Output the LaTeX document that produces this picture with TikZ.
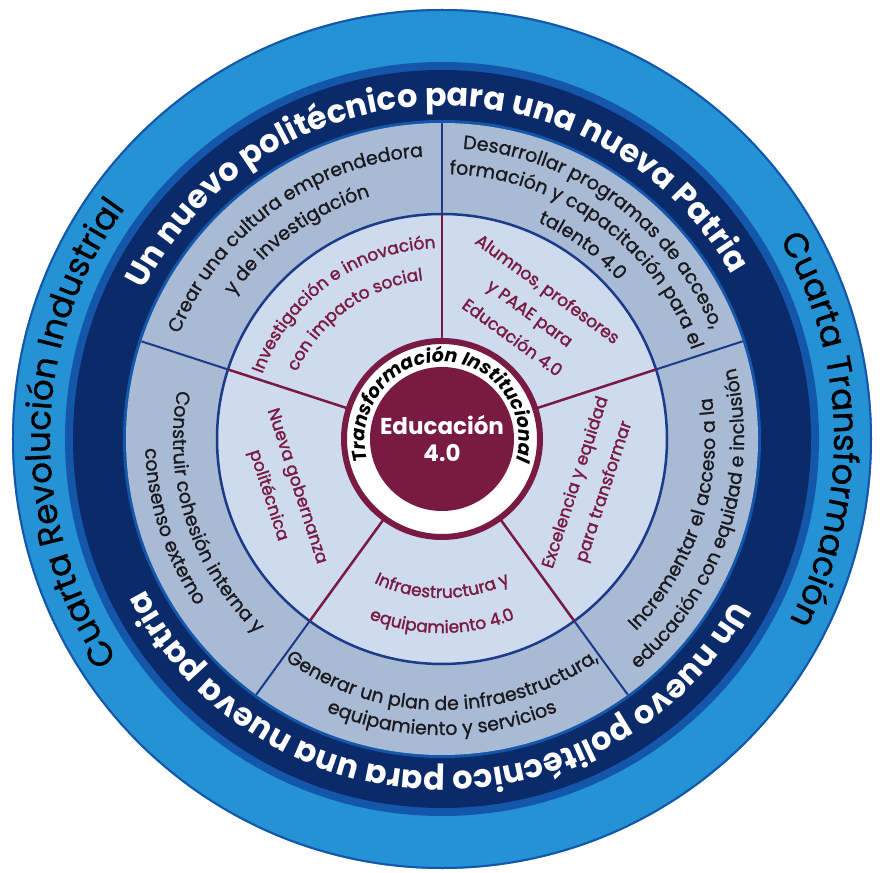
\documentclass[tikz,border=0pt]{standalone}
\usepackage{fontspec}
\setmainfont{Poppins}
\newfontfamily\popmed{Poppins}[FakeBold=1.0]
\newfontfamily\popsemi{Poppins}[FakeBold=1.6]
\usepackage{tikz}
\usetikzlibrary{decorations.text,positioning}

\definecolor{sky}{RGB}{36,146,212}
\definecolor{midblue}{RGB}{20,86,170}
\definecolor{navy}{RGB}{10,42,106}
\definecolor{slate}{RGB}{168,186,212}
\definecolor{pale}{RGB}{206,218,238}
\definecolor{wine}{RGB}{120,26,66}
\definecolor{rule}{RGB}{28,58,138}
\definecolor{ink}{RGB}{25,25,30}

\newcommand{\fband}{\fontsize{34}{40}\selectfont\popmed}
\newcommand{\fnavy}{\fontsize{32}{38}\selectfont\bfseries}
\newcommand{\fgray}{\fontsize{19}{23}\selectfont\popmed}
\newcommand{\fwine}{\fontsize{17}{30}\selectfont\popsemi}
\newcommand{\fcore}{\fontsize{19}{23}\selectfont\bfseries\itshape}

\tikzstyle{ring}=[decorate,decoration={text along path,text align=center}]
\tikzstyle{winetxt}=[text=wine,align=center,font=\fwine,inner sep=0pt]
\tikzset{every picture/.style={line width=0.5pt}}

% radius, start, end, colour, font, text
\newcommand{\arctxt}[6]{\path[ring,decoration={text color=#4,text={|#5|#6}}] (#2:#1) arc[start angle=#2,end angle=#3,radius=#1];}

\begin{document}
\begin{tikzpicture}
\useasboundingbox (-442pt,-433pt) rectangle (438pt,439pt);
\fill[sky] (0,0) circle[radius=430pt];
\draw[midblue,line width=2pt] (0,0) circle[radius=429pt];
\fill[midblue] (0,0) circle[radius=377pt];
\fill[navy] (0,0) circle[radius=369pt];
\fill[midblue] (0,0) circle[radius=319pt];
\fill[slate] (0,0) circle[radius=316pt];
\fill[pale] (0,0) circle[radius=225pt];
\draw[rule,line width=2.5pt] (0,0) circle[radius=225pt];
\foreach \a in {18,90,162,234,306}{
  \draw[rule,line width=2pt] (\a:225pt) -- (\a:316pt);
  \draw[wine,line width=2.5pt] (\a:98pt) -- (\a:225pt);
}
\fill[white] (0,0) circle[radius=98pt];
\draw[wine,line width=6pt] (0,0) circle[radius=98pt];
\fill[wine] (0,0) circle[radius=72pt];

\arctxt{392pt}{240}{118}{black}{\fband}{Cuarta Revolución Industrial}
\arctxt{392pt}{60}{-57}{black}{\fband}{Cuarta Transformación}
\arctxt{333pt}{178}{5}{white}{\fnavy}{Un nuevo politécnico para una nueva Patria}
\arctxt{333pt}{-5}{-177}{white}{\fnavy}{Un nuevo politécnico para una nueva patria}

\arctxt{283pt}{162}{90}{ink}{\fgray}{Crear una cultura emprendedora}
\arctxt{253pt}{162}{90}{ink}{\fgray}{y de investigación}
\arctxt{291pt}{90}{18}{ink}{\fgray}{Desarrollar programas de acceso,}
\arctxt{265pt}{90}{18}{ink}{\fgray}{formación y capacitación para el}
\arctxt{237pt}{90}{18}{ink}{\fgray}{talento 4.0}
\arctxt{273pt}{-54}{18}{ink}{\fgray}{Incrementar el acceso a la}
\arctxt{302pt}{-54}{18}{ink}{\fgray}{educación con equidad e inclusión}
\arctxt{271pt}{234}{306}{ink}{\fgray}{Generar un plan de infraestructura,}
\arctxt{296pt}{234}{306}{ink}{\fgray}{equipamiento y servicios}
\arctxt{269pt}{162}{234}{ink}{\fgray}{Construir cohesión interna y}
\arctxt{297pt}{162}{234}{ink}{\fgray}{consenso externo}

\arctxt{191pt}{162}{90}{wine}{\fwine}{Investigación e innovación}
\arctxt{160pt}{162}{90}{wine}{\fwine}{con impacto social}
\arctxt{159pt}{234}{306}{wine}{\fwine}{Infraestructura y}
\arctxt{194pt}{234}{306}{wine}{\fwine}{equipamiento 4.0}
\node[winetxt,rotate=-36] (alum) at (55:154pt) {Alumnos, profesores\\y PAAE para\\Educación 4.0};
\node[winetxt,rotate=72] (exce) at (-18:156pt) {Excelencia y equidad\\para transformar};
\node[winetxt,rotate=-72] (gobe) at (198:168pt) {Nueva gobernanza\\politécnica};

\arctxt{77pt}{215}{-35}{black}{\fcore}{Transformación Institucional}
\node[text=white,align=center,font=\fontsize{23}{27}\selectfont\bfseries] (edu) at (0,0) {Educación\\4.0};
\end{tikzpicture}
\end{document}
